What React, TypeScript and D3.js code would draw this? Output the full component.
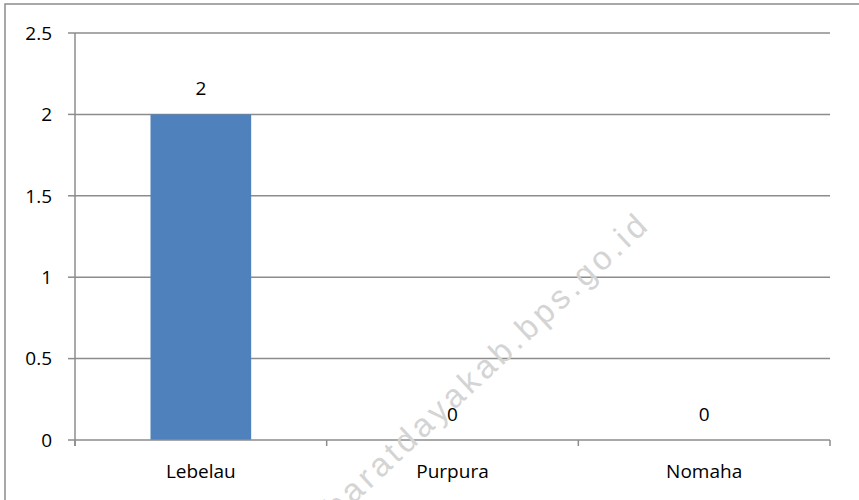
import { useEffect, useRef } from 'react';
import * as d3 from 'd3';

// chart data
const categories = ['Lebelau', 'Purpura', 'Nomaha'];
const values = [2, 0, 0];
const yTicks = [0, 0.5, 1, 1.5, 2, 2.5];
const watermark = 'sumbabaratdayakab.bps.go.id';

export default function App() {
  const svgRef = useRef<SVGSVGElement>(null);

  useEffect(() => {
    if (!svgRef.current) return;
    const root = d3.select(svgRef.current);
    root.selectAll('*').remove();

    const width = 859;
    const height = 500;
    const font = "'Open Sans', 'Noto Sans', sans-serif";
    const fontSize = 19;
    const gridColor = '#8c8c8c';

    // outer chart frame (right and bottom edges fall outside the picture)
    root
      .append('rect')
      .attr('x', 5)
      .attr('y', 4)
      .attr('width', width + 20)
      .attr('height', height + 20)
      .attr('fill', '#ffffff')
      .attr('stroke', '#8c8c8c')
      .attr('stroke-width', 1.5);

    const plot = { left: 75, right: 830, top: 33, bottom: 440 };

    const x = d3
      .scaleBand<string>()
      .domain(categories)
      .range([plot.left, plot.right])
      .paddingInner(0.6)
      .paddingOuter(0.3);

    const y = d3.scaleLinear().domain([0, 2.5]).range([plot.bottom, plot.top]);

    // gridlines
    root
      .append('g')
      .selectAll('line')
      .data(yTicks.filter((t) => t > 0))
      .enter()
      .append('line')
      .attr('x1', plot.left)
      .attr('x2', plot.right)
      .attr('y1', (d) => y(d))
      .attr('y2', (d) => y(d))
      .attr('stroke', gridColor)
      .attr('stroke-width', 1.5);

    // bars
    root
      .append('g')
      .selectAll('rect')
      .data(values)
      .enter()
      .append('rect')
      .attr('x', (d, i) => x(categories[i])!)
      .attr('y', (d) => y(d))
      .attr('width', x.bandwidth())
      .attr('height', (d) => y(0) - y(d))
      .attr('fill', '#4f81bd');

    // y axis line + ticks
    root
      .append('line')
      .attr('x1', plot.left)
      .attr('x2', plot.left)
      .attr('y1', plot.top)
      .attr('y2', plot.bottom + 6)
      .attr('stroke', gridColor)
      .attr('stroke-width', 1.5);

    root
      .append('g')
      .selectAll('line')
      .data(yTicks)
      .enter()
      .append('line')
      .attr('x1', plot.left - 7)
      .attr('x2', plot.left)
      .attr('y1', (d) => y(d))
      .attr('y2', (d) => y(d))
      .attr('stroke', gridColor)
      .attr('stroke-width', 1.5);

    root
      .append('g')
      .selectAll('text')
      .data(yTicks)
      .enter()
      .append('text')
      .attr('x', plot.left - 23)
      .attr('y', (d) => y(d))
      .attr('dy', '0.36em')
      .attr('text-anchor', 'end')
      .attr('font-family', font)
      .attr('font-size', fontSize)
      .attr('fill', '#000')
      .text((d) => String(d));

    // x axis line + category ticks
    root
      .append('line')
      .attr('x1', plot.left)
      .attr('x2', plot.right)
      .attr('y1', plot.bottom)
      .attr('y2', plot.bottom)
      .attr('stroke', gridColor)
      .attr('stroke-width', 1.5);

    const step = (plot.right - plot.left) / categories.length;
    root
      .append('g')
      .selectAll('line')
      .data(d3.range(categories.length + 1))
      .enter()
      .append('line')
      .attr('x1', (i) => plot.left + i * step)
      .attr('x2', (i) => plot.left + i * step)
      .attr('y1', plot.bottom)
      .attr('y2', plot.bottom + 6)
      .attr('stroke', gridColor)
      .attr('stroke-width', 1.5);

    root
      .append('g')
      .selectAll('text')
      .data(categories)
      .enter()
      .append('text')
      .attr('x', (d) => x(d)! + x.bandwidth() / 2)
      .attr('y', plot.bottom + 38)
      .attr('text-anchor', 'middle')
      .attr('font-family', font)
      .attr('font-size', fontSize)
      .attr('fill', '#000')
      .text((d) => d);

    // value labels
    root
      .append('g')
      .selectAll('text')
      .data(values)
      .enter()
      .append('text')
      .attr('x', (d, i) => x(categories[i])! + x.bandwidth() / 2)
      .attr('y', (d) => y(d) - 19)
      .attr('text-anchor', 'middle')
      .attr('font-family', font)
      .attr('font-size', fontSize)
      .attr('fill', '#000')
      .text((d) => String(d));

    // watermark
    root
      .append('text')
      .attr('transform', 'translate(652,226) rotate(-43)')
      .attr('text-anchor', 'end')
      .attr('font-family', "'Liberation Sans', Arial, sans-serif")
      .attr('font-size', 33)
      .attr('letter-spacing', 4)
      .attr('fill', '#d4d4d4')
      .text(watermark);
  }, []);

  return (
    <svg
      ref={svgRef}
      width={859}
      height={500}
      style={{ position: 'absolute', left: 0, top: 0, display: 'block' }}
    />
  );
}
